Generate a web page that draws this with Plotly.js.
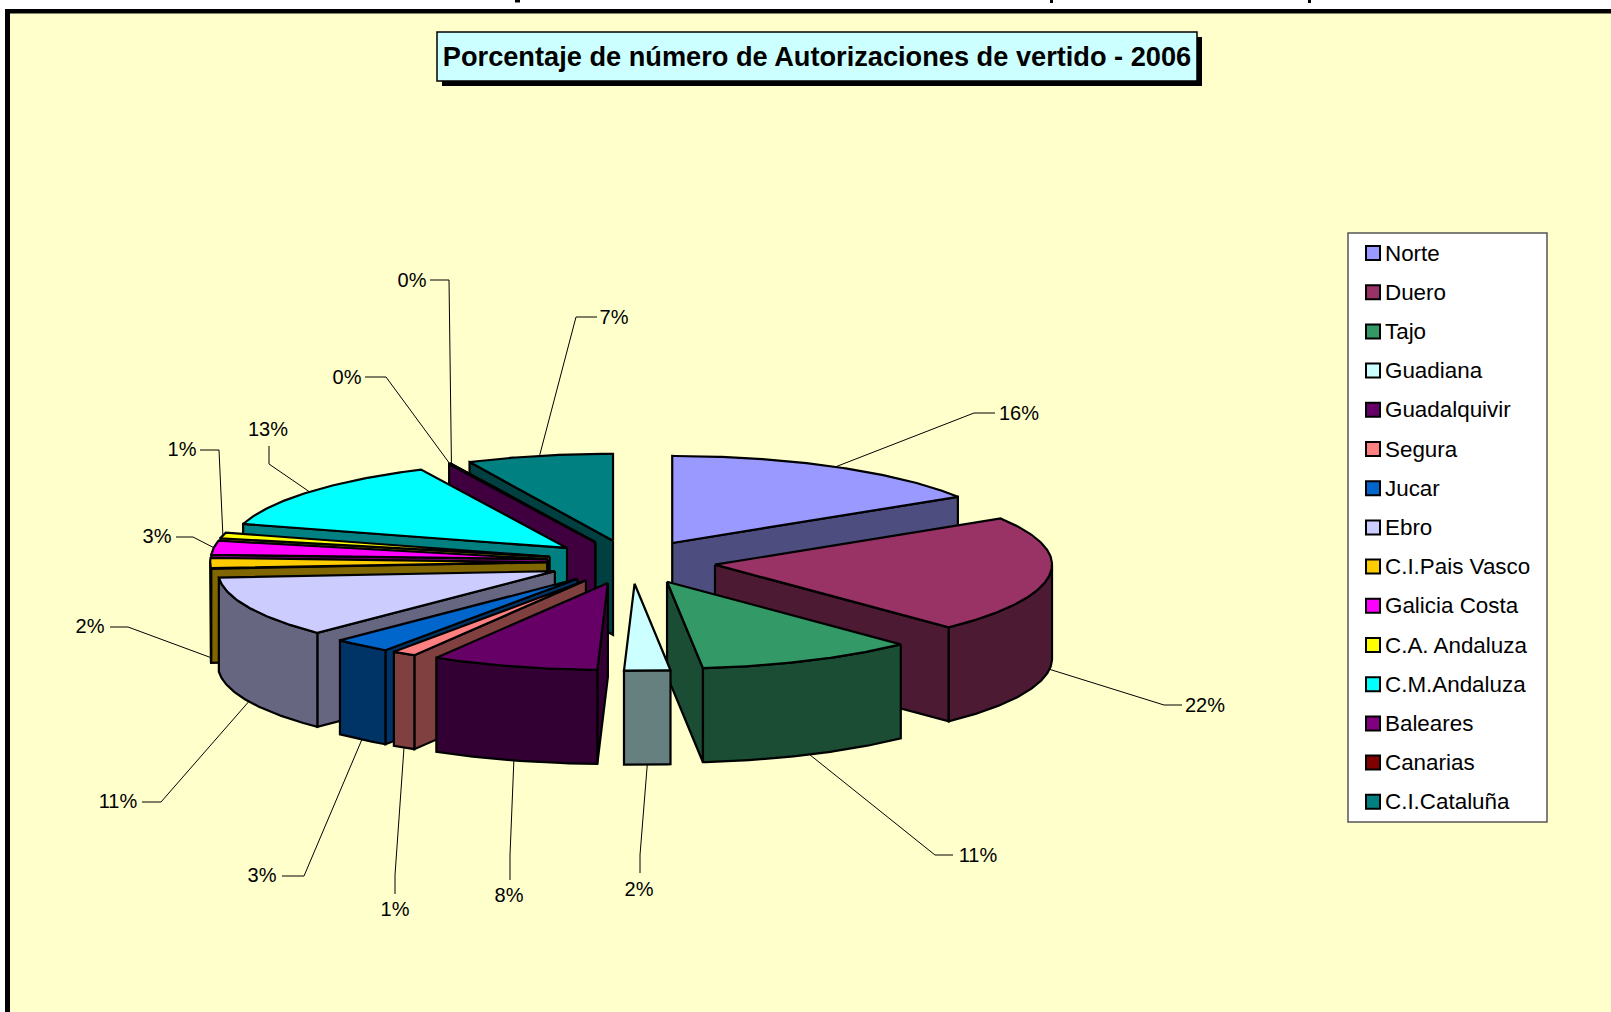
<!DOCTYPE html>
<html>
<head>
<meta charset="utf-8">
<script src="https://cdn.plot.ly/plotly-3.0.1.min.js"></script>
<style>html,body{margin:0;padding:0;background:#fff;overflow:hidden}#chart{width:1611px;height:1012px}</style>
</head>
<body>
<div id="chart"></div>
<script>
// ---- data ----
const categories = ['Norte','Duero','Tajo','Guadiana','Guadalquivir','Segura','Jucar','Ebro','C.I.Pais Vasco','Galicia Costa','C.A. Andaluza','C.M.Andaluza','Baleares','Canarias','C.I.Cataluña'];
const shares = [16.1,21.7,10.5,2.2,8.0,1.15,2.8,11.35,2.0,2.6,1.05,13.42,0.08,0.05,7.0];
const chartTitle = 'Porcentaje de número de Autorizaciones de vertido - 2006';

// ---- styles ----
const topColors  = ['#9999FF','#993366','#339966','#CCFFFF','#660066','#FF8080','#0066CC','#CCCCFF','#FFCC00','#FF00FF','#FFFF00','#00FFFF','#800080','#800000','#008080'];
const wallColors = ['#4D4D80','#4D1A33','#1A4D33','#668080','#330033','#804040','#003366','#666680','#806600','#800080','#808000','#008080','#400040','#400000','#004040'];

// ---- layout of the pie and its labels (pixel-scaled axes) ----
const cx = 631.4, cy = 562, rx = 337, ry = 87, depth = 94, explode = 0.25;
const labelX = [1019,1205,978,639,509,395,262,118,90,157,182,268,347,412,614];
const labelY = [415,707,857,891,897,911,877,803,628,538,451,431,379,282,319];
const elbowX = [974,1164,935,640,510,395,304,161,128,193,219,269,386,449,576];
const elbowY = [413,705,855,855,855,875,876,802,627,537,450,464,377,280,317];
const tailX  = [995,1182,953,640,510,395,282,142,110,176,200,269,365,430,597];
const tailY  = [413,705,855,873,880,894,876,802,627,537,450,446,377,280,317];
const keyX = 1373, keyTextX = 1385, keyTop = 253, keyStep = 39.2, keyTextDrop = 2;

const total = shares.reduce((a,b)=>a+b,0);
const rad = d => d*Math.PI/180;
let cum = 0;
const slices = shares.map((v,i)=>{
  const a0 = cum/total*360; cum += v; const a1 = cum/total*360; const mid = (a0+a1)/2;
  const ox = cx + explode*rx*Math.sin(rad(mid)), oy = cy - explode*ry*Math.cos(rad(mid));
  return {i,a0,a1,mid,ox,oy};
});
const rim = (s,a) => [s.ox + rx*Math.sin(rad(a)), s.oy - ry*Math.cos(rad(a))];
function arc(s,from,to){ const out=[]; const n=Math.max(2,Math.ceil(Math.abs(to-from)*2));
  for(let k=0;k<=n;k++) out.push(rim(s,from+(to-from)*k/n)); return out; }
const poly = (pts,color,i,w) => ({type:'scatter',mode:'lines',x:pts.map(p=>p[0]),y:pts.map(p=>p[1]),fill:'toself',fillcolor:color,
  line:{color:'#000',width:w||2.2},showlegend:false,hoverinfo:'skip',name:categories[i]});

const traces = [];
// leader lines (behind the pie)
slices.forEach(s=>{
  const p = rim(s,s.mid); const c = Math.cos(rad(s.mid));
  const y0 = c<0 ? p[1]+depth : p[1];
  traces.push({type:'scatter',mode:'lines',x:[p[0],elbowX[s.i],tailX[s.i]],y:[y0,elbowY[s.i],tailY[s.i]],
    line:{color:'#000',width:1},showlegend:false,hoverinfo:'skip'});
});
// slices, back to front
[...slices].sort((a,b)=>(-Math.cos(rad(a.mid)))-(-Math.cos(rad(b.mid)))).forEach(s=>{
  const i = s.i, wall = wallColors[i];
  const radial = a => { const p = rim(s,a); return [[s.ox,s.oy],p,[p[0],p[1]+depth],[s.ox,s.oy+depth],[s.ox,s.oy]]; };
  if(Math.sin(rad(s.a0))<0) traces.push(poly(radial(s.a0),wall,i));
  if(Math.sin(rad(s.a1))>0) traces.push(poly(radial(s.a1),wall,i));
  const f0 = Math.max(s.a0,90), f1 = Math.min(s.a1,270);
  if(f1>f0){
    const top = arc(s,f0,f1); const bottom = top.map(p=>[p[0],p[1]+depth]).reverse();
    traces.push(poly(top.concat(bottom,[top[0]]),wall,i));
  }
  traces.push(poly([[s.ox,s.oy]].concat(arc(s,s.a0,s.a1),[[s.ox,s.oy]]),topColors[i],i));
});
// percentage labels
traces.push({type:'scatter',mode:'text',x:labelX,y:labelY,text:shares.map(v=>Math.round(v)+'%'),textposition:'middle center',
  textfont:{family:'"Liberation Sans",Arial,sans-serif',size:20,color:'#000'},showlegend:false,hoverinfo:'skip'});
// key: swatches and names
const keyY = categories.map((c,i)=>keyTop+i*keyStep);
traces.push({type:'scatter',mode:'markers',x:categories.map(()=>keyX),y:keyY,showlegend:false,hoverinfo:'skip',
  marker:{symbol:'square',size:14,color:topColors,line:{color:'#000',width:2}}});
traces.push({type:'scatter',mode:'text',x:categories.map(()=>keyTextX),y:keyY.map(v=>v+keyTextDrop),text:categories,textposition:'middle right',showlegend:false,hoverinfo:'skip',
  textfont:{family:'"Liberation Sans",Arial,sans-serif',size:22.4,color:'#000'}});

const rect = (x0,y0,x1,y1,fill,line,w) => ({type:'rect',xref:'x',yref:'y',x0,y0,x1,y1,fillcolor:fill,line:{color:line||fill,width:w===undefined?0:w},layer:'below'});
const layout = {
  width:1611,height:1012,margin:{l:0,r:0,t:0,b:0,pad:0},paper_bgcolor:'#FFFFFF',plot_bgcolor:'rgba(0,0,0,0)',showlegend:false,
  xaxis:{range:[0,1611],visible:false,fixedrange:true},
  yaxis:{range:[1012,0],visible:false,fixedrange:true},
  title:{text:chartTitle,x:817/1611,xanchor:'center',xref:'paper',y:1-56/1012,yanchor:'middle',yref:'paper',
    font:{family:'"Liberation Sans",Arial,sans-serif',size:27.2,color:'#000',weight:'bold'}},
  shapes:[
    rect(5,9,1611,1012,'#000000'),
    rect(10,13.5,1611,1012,'#FFFFCC'),
    rect(442,37,1202,86,'#000000'),
    rect(437,32,1197,81,'#CCFFFF','#000000',1.5),
    rect(1348,233,1547,822,'#FFFFFF','#555555',1.5),
    rect(515,0,520,2.5,'#000000'),
    rect(1050,0,1053,3,'#000000'),
    rect(1308,0,1311,3,'#000000')
  ]
};
Plotly.newPlot('chart',traces,layout,{displayModeBar:false});
</script>
</body>
</html>
